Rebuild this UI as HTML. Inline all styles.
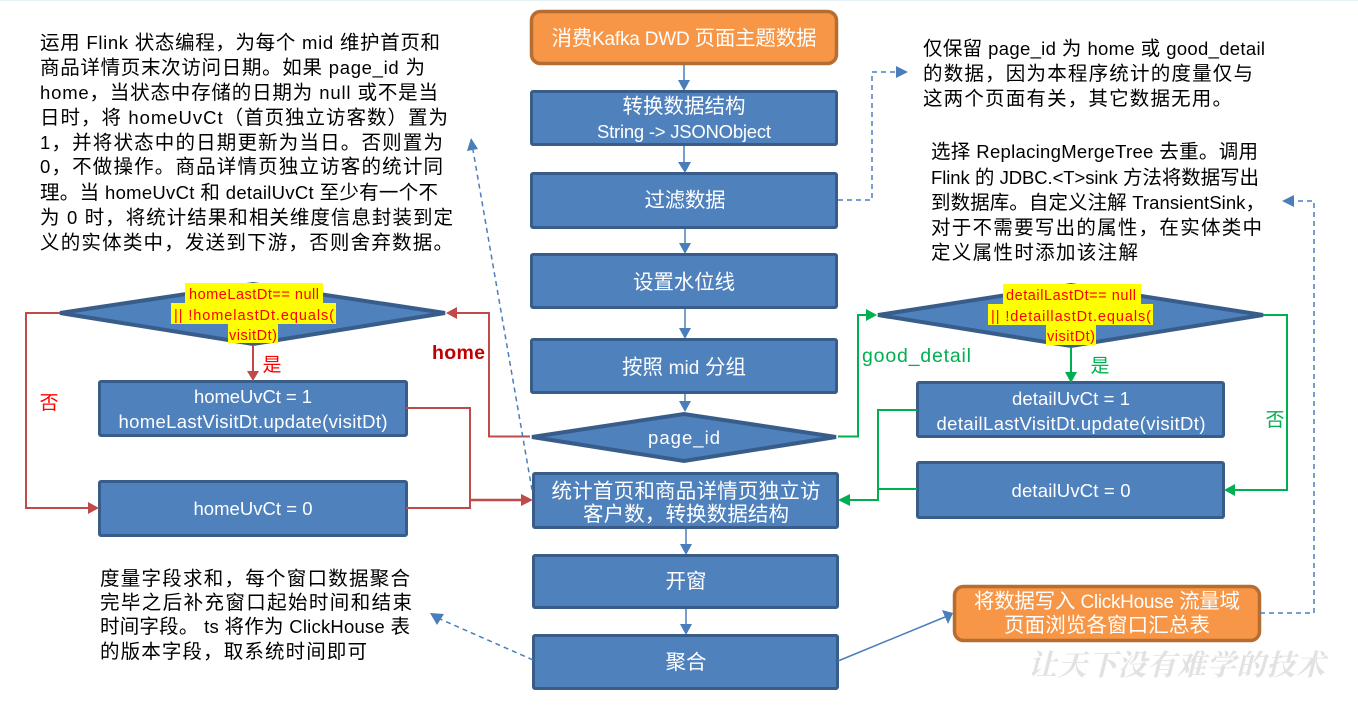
<!DOCTYPE html>
<html><head><meta charset="utf-8"><style>
html,body{margin:0;padding:0;background:#fff;width:1358px;height:706px;overflow:hidden}
svg{display:block}
text{font-family:"Liberation Sans","Noto Sans CJK SC",sans-serif}
.b{fill:#4f81bd;stroke:#385d8a;stroke-width:3}
.dm{fill:#4f81bd;stroke:#385d8a;stroke-width:4}
.o{fill:#f79646;stroke:#b66d31;stroke-width:3.500}
.w{fill:#fff;font-size:20.500px;text-anchor:middle}
.wl{fill:#fff;font-size:18.500px;text-anchor:middle}
.k{fill:#000;font-size:19.500px}
tspan.l{font-size:18.500px}
tspan.lw{font-size:19px}
.r{fill:#f00;font-size:14.500px;text-anchor:middle}
.y{fill:#ff0}
.lb{fill:none;stroke:#4a7ebb;stroke-width:1.500}
.d{fill:none;stroke:#4a7ebb;stroke-width:1.500;stroke-dasharray:5 4}
.lr{fill:none;stroke:#be4b48;stroke-width:2}
.lg{fill:none;stroke:#00b050;stroke-width:2}
.ab{fill:#4a7ebb}.ar{fill:#be4b48}.ag{fill:#00b050}
</style></head><body>
<svg width="1358" height="706" viewBox="0 0 1358 706" xmlns="http://www.w3.org/2000/svg">
<rect x="0" y="0" width="1358" height="1" fill="#e4f0f4"/>

<!-- center connectors -->
<path class="lb" d="M684 64V81M684 145V163M685 228V244M685 308V329M685 393V402M686 528V545M686 608V625"/>
<path class="ab" d="M678 80H690L684 91ZM678 162H691L685 173ZM679 243H691L685 254ZM679 328H691L685 339ZM679 401H691L685 412ZM680 544H692L686 555ZM680 624H692L686 635Z"/>

<!-- center boxes -->
<rect class="o" x="531.500" y="11.500" width="305" height="52" rx="9"/>
<rect class="b" x="531.500" y="91.500" width="305" height="53" rx="1.500"/>
<rect class="b" x="531.500" y="173.500" width="305" height="54" rx="1.500"/>
<rect class="b" x="531.500" y="254.500" width="305" height="53" rx="1.500"/>
<rect class="b" x="531.500" y="339.500" width="305" height="53" rx="1.500"/>
<polygon class="dm" points="532,437 684,414 836,437 684,461"/>
<rect class="b" x="533.500" y="473.500" width="304" height="54" rx="1.500"/>
<rect class="b" x="533.500" y="555.500" width="304" height="52" rx="1.500"/>
<rect class="b" x="533.500" y="635.500" width="304" height="53" rx="1.500"/>

<text class="w" x="684" y="45" textLength="265">消费<tspan class="lw">Kafka DWD </tspan>页面主题数据</text>
<text class="w" x="684" y="113" textLength="123">转换数据结构</text>
<text class="wl" x="684" y="138" textLength="174">String -&gt; JSONObject</text>
<text class="w" x="685" y="207" textLength="81">过滤数据</text>
<text class="w" x="684" y="289" textLength="102">设置水位线</text>
<text class="w" x="684" y="374" textLength="124">按照 <tspan class="lw">mid</tspan> 分组</text>
<text class="wl" x="684" y="444" textLength="72">page_id</text>
<text class="w" x="686" y="498" textLength="269">统计首页和商品详情页独立访</text>
<text class="w" x="686" y="521" textLength="206">客户数，转换数据结构</text>
<text class="w" x="686" y="588" textLength="41">开窗</text>
<text class="w" x="686" y="669" textLength="41">聚合</text>

<!-- left diamond group -->
<polygon class="dm" points="60,313 253,284 445,313 253,344"/>
<rect class="y" x="185" y="283" width="138" height="20"/>
<rect class="y" x="171" y="303" width="165" height="21"/>
<rect class="y" x="228" y="323" width="50" height="20"/>
<text class="r" x="254" y="299" textLength="130">homeLastDt== null</text>
<text class="r" x="254" y="320" textLength="160">|| !homelastDt.equals(</text>
<text class="r" x="253" y="340" textLength="48">visitDt)</text>
<rect class="b" x="99.500" y="381.500" width="307" height="54" rx="1.500"/>
<rect class="b" x="99.500" y="481.500" width="307" height="54" rx="1.500"/>
<text class="wl" x="253" y="403" textLength="118">homeUvCt = 1</text>
<text class="wl" x="253" y="428" textLength="269">homeLastVisitDt.update(visitDt)</text>
<text class="wl" x="253" y="515" textLength="119">homeUvCt = 0</text>

<path class="lr" d="M253 345V372"/>
<path class="ar" d="M247 371H259L253 381Z"/>
<path class="lr" d="M60 313H26V508H90"/>
<path class="ar" d="M88 502V514L99 508Z"/>
<path class="lr" d="M406 408H470V508H406"/>
<path class="lr" d="M470 500H524" style="stroke-width:2.400"/>
<path class="ar" d="M521 494V506L533 500Z"/>
<path class="lr" d="M530 436.500H489V313H456"/>
<path class="ar" d="M457 307V319L446 313Z"/>
<text x="432" y="359" style="font-size:19.500px;font-weight:bold" fill="#c00000" textLength="53">home</text>
<text x="272" y="371" style="font-size:19px;text-anchor:middle" fill="#f00">是</text>
<text x="49" y="409" style="font-size:19px;text-anchor:middle" fill="#f00">否</text>

<!-- right diamond group -->
<polygon class="dm" points="878,315 1071,285 1263,315 1071,346"/>
<rect class="y" x="1003" y="284" width="138" height="20"/>
<rect class="y" x="988" y="304" width="165" height="21"/>
<rect class="y" x="1046" y="325" width="50" height="20"/>
<text class="r" x="1071" y="300" textLength="130">detailLastDt== null</text>
<text class="r" x="1071" y="321" textLength="160">|| !detaillastDt.equals(</text>
<text class="r" x="1071" y="341" textLength="48">visitDt)</text>
<rect class="b" x="917.500" y="382.500" width="306" height="54" rx="1.500"/>
<rect class="b" x="917.500" y="462.500" width="306" height="55" rx="1.500"/>
<text class="wl" x="1071" y="405" textLength="118">detailUvCt = 1</text>
<text class="wl" x="1071" y="430" textLength="269">detailLastVisitDt.update(visitDt)</text>
<text class="wl" x="1071" y="497" textLength="119">detailUvCt = 0</text>

<path class="lg" d="M838 436.500H858V315H867"/>
<path class="ag" d="M866 309V321L877 315Z"/>
<path class="lg" d="M1071 347V373"/>
<path class="ag" d="M1065 372H1077L1071 383Z"/>
<path class="lg" d="M1263 315H1287V490H1234"/>
<path class="ag" d="M1235 484V496L1224 490Z"/>
<path class="lg" d="M917 410H878V500H848M917 489H878"/>
<path class="ag" d="M850 494V506L838 500Z"/>
<text x="862" y="362" style="font-size:19.500px" fill="#00b050" textLength="109">good_detail</text>
<text x="1100" y="372" style="font-size:19px;text-anchor:middle" fill="#00b050">是</text>
<text x="1275" y="426" style="font-size:19px;text-anchor:middle" fill="#00b050">否</text>

<!-- orange sink -->
<rect class="o" x="954.500" y="586.500" width="305" height="54" rx="9"/>
<text class="w" x="1107" y="608" textLength="266">将数据写入 <tspan class="lw">ClickHouse</tspan> 流量域</text>
<text class="w" x="1107" y="632" textLength="206">页面浏览各窗口汇总表</text>
<path class="lb" d="M838 661L945 617"/>
<path class="ab" d="M942 610L953 613L948 624Z"/>

<!-- dashed -->
<path class="d" d="M838 200H872V72H895"/>
<path class="ab" d="M896 66V78L908 72Z"/>
<path class="d" d="M532 490L473 150"/>
<path class="ab" d="M467 151L471 138L478 149Z"/>
<path class="d" d="M533 660L440 619"/>
<path class="ab" d="M437 625L430 613L444 614Z"/>
<path class="d" d="M1260 613H1314V201H1293"/>
<path class="ab" d="M1294 195V207L1282 201Z"/>

<!-- left paragraph -->
<text class="k" x="40" y="49" textLength="400">运用 <tspan class="l">Flink</tspan> 状态编程，为每个 <tspan class="l">mid</tspan> 维护首页和</text>
<text class="k" x="40" y="74" textLength="385">商品详情页末次访问日期。如果 <tspan class="l">page_id</tspan> 为</text>
<text class="k" x="40" y="99" textLength="398"><tspan class="l">home</tspan>，当状态中存储的日期为 <tspan class="l">null</tspan> 或不是当</text>
<text class="k" x="40" y="124" textLength="408">日时，将 <tspan class="l">homeUvCt</tspan>（首页独立访客数）置为</text>
<text class="k" x="40" y="149" textLength="403"><tspan class="l">1</tspan>，并将状态中的日期更新为当日。否则置为</text>
<text class="k" x="40" y="173" textLength="403"><tspan class="l">0</tspan>，不做操作。商品详情页独立访客的统计同</text>
<text class="k" x="40" y="199" textLength="398">理。当 <tspan class="l">homeUvCt</tspan> 和 <tspan class="l">detailUvCt</tspan> 至少有一个不</text>
<text class="k" x="40" y="224" textLength="413">为 <tspan class="l">0</tspan> 时，将统计结果和相关维度信息封装到定</text>
<text class="k" x="40" y="249" textLength="413">义的实体类中，发送到下游，否则舍弃数据。</text>

<!-- right paragraphs -->
<text class="k" x="923" y="55" textLength="342">仅保留 <tspan class="l">page_id</tspan> 为 <tspan class="l">home</tspan> 或 <tspan class="l">good_detail</tspan></text>
<text class="k" x="923" y="80" textLength="330">的数据，因为本程序统计的度量仅与</text>
<text class="k" x="923" y="105" textLength="309">这两个页面有关，其它数据无用。</text>
<text class="k" x="931" y="158" textLength="327">选择 <tspan class="l">ReplacingMergeTree</tspan> 去重。调用</text>
<text class="k" x="931" y="184" textLength="328"><tspan class="l">Flink</tspan> 的 <tspan class="l">JDBC.&lt;T&gt;sink</tspan> 方法将数据写出</text>
<text class="k" x="931" y="209" textLength="334">到数据库。自定义注解 <tspan class="l">TransientSink</tspan>，</text>
<text class="k" x="931" y="234" textLength="331">对于不需要写出的属性，在实体类中</text>
<text class="k" x="931" y="259" textLength="207">定义属性时添加该注解</text>

<!-- bottom-left paragraph -->
<text class="k" x="100" y="585" textLength="310">度量字段求和，每个窗口数据聚合</text>
<text class="k" x="100" y="609" textLength="312">完毕之后补充窗口起始时间和结束</text>
<text class="k" x="100" y="633" textLength="310">时间字段。 <tspan class="l">ts</tspan> 将作为 <tspan class="l">ClickHouse</tspan> 表</text>
<text class="k" x="100" y="658" textLength="267">的版本字段，取系统时间即可</text>

<!-- watermark -->
<text x="1028" y="675" textLength="297" style="font-family:'Noto Serif CJK SC',serif;font-size:29px;font-weight:bold;font-style:italic" fill="#e2e2e2">让天下没有难学的技术</text>
</svg>
</body></html>
